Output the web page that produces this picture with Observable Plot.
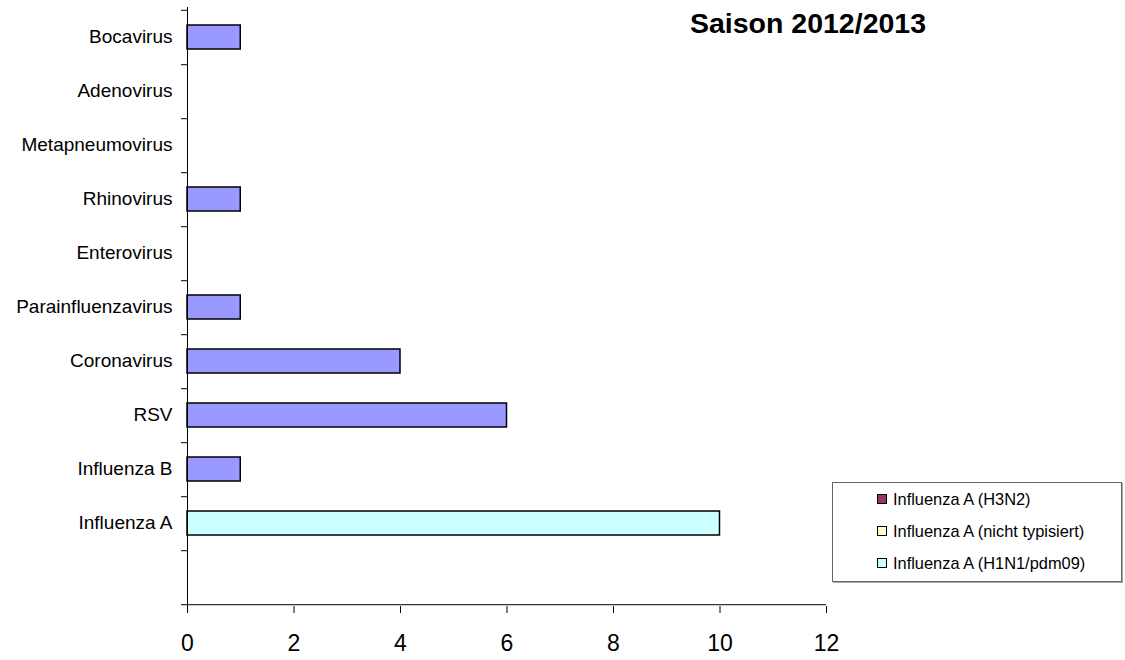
<!DOCTYPE html>
<html>
<head>
<meta charset="utf-8">
<script src="https://cdn.jsdelivr.net/npm/d3@7"></script>
<script src="https://cdn.jsdelivr.net/npm/@observablehq/plot@0.6"></script>
<style>
  html, body { margin: 0; padding: 0; background: #fff; }
  #wrap { position: relative; width: 1125px; height: 660px; font-family: "Liberation Sans", Arial, sans-serif; }
  #title { position: absolute; left: 650px; width: 316px; top: 7px; text-align: center; font-weight: bold; font-size: 28.5px; color: #000; white-space: nowrap; }
  #legend { position: absolute; left: 832px; top: 482px; width: 290px; height: 100px; border: 1px solid #666; box-shadow: 1px 1px 0 #aaa; box-sizing: border-box; padding: 0 0 0 44px; background: #fff; }
  .item { display: flex; align-items: center; height: 32px; font-size: 16.4px; color: #000; white-space: nowrap; }
  .sw { width: 8px; height: 8px; border: 1px solid #000; margin-right: 6px; flex: none; }
</style>
</head>
<body>
<div id="wrap">
  <div id="chart"></div>
  <div id="title"></div>
  <div id="legend"></div>
</div>
<script>
// ---- data ----
const chartTitle = "Saison 2012/2013";
const categories = ["Bocavirus", "Adenovirus", "Metapneumovirus", "Rhinovirus", "Enterovirus",
  "Parainfluenzavirus", "Coronavirus", "RSV", "Influenza B", "Influenza A", " "];
const otherSeries = "Andere Viren";
const otherCounts = [1, 0, 0, 1, 0, 1, 4, 6, 1, 0, 0];
const influenzaCategory = "Influenza A";
const influenzaSubtypes = ["Influenza A (H3N2)", "Influenza A (nicht typisiert)", "Influenza A (H1N1/pdm09)"];
const influenzaCounts = [0, 0, 10];
const subtypeColors = ["#993366", "#FFFFCC", "#CCFFFF"];
const otherColor = "#9999FF";
const xTicks = [0, 2, 4, 6, 8, 10, 12];

// ---- table ----
const rows = [];
categories.forEach((c, i) => { if (otherCounts[i] > 0) rows.push({category: c, series: otherSeries, value: otherCounts[i]}); });
influenzaSubtypes.forEach((s, i) => { if (influenzaCounts[i] > 0) rows.push({category: influenzaCategory, series: s, value: influenzaCounts[i]}); });

const width = 1125, height = 660;
const marginTop = 7, marginBottom = 54, marginLeft = 187, marginRight = 299;
const step = (height - marginTop - marginBottom) / categories.length;

const plot = Plot.plot({
  width, height, marginTop, marginBottom, marginLeft, marginRight,
  style: {fontFamily: '"Liberation Sans", Arial, sans-serif', color: "#000", background: "#fff"},
  x: {domain: [0, 12]},
  y: {domain: categories, padding: 0},
  color: {domain: [otherSeries, ...influenzaSubtypes], range: [otherColor, ...subtypeColors]},
  marks: [
    Plot.barX(rows, Plot.stackX({y: "category", x: "value", fill: "series", order: influenzaSubtypes,
      stroke: "#000", strokeWidth: 1.5, insetTop: 15, insetBottom: 15})),
    // vertical axis line
    Plot.ruleX([0], {stroke: "#000", strokeWidth: 1}),
    // horizontal axis line at the bottom band edge
    Plot.ruleY([categories[categories.length - 1]], {y: d => d, x1: 0, x2: 12, dy: step / 2, stroke: "#000", strokeWidth: 1}),
    // band-boundary ticks on the y axis
    Plot.ruleY([categories[0]], {y: d => d, x1: 0, x2: 0, insetLeft: -6, dy: -step / 2, stroke: "#000"}),
    Plot.ruleY(categories, {y: d => d, x1: 0, x2: 0, insetLeft: -6, dy: step / 2, stroke: "#000"}),
    Plot.axisY({tickSize: 0, tickPadding: 15, fontSize: 19, label: null, dy: -1}),
    Plot.axisX({ticks: xTicks, tickSize: 7, tickPadding: 21, fontSize: 23, label: null, stroke: "#000"})
  ]
});
document.getElementById("chart").appendChild(plot);

document.getElementById("title").textContent = chartTitle;
const legend = document.getElementById("legend");
influenzaSubtypes.forEach((s, i) => {
  const it = document.createElement("div");
  it.className = "item";
  const sw = document.createElement("span");
  sw.className = "sw";
  sw.style.background = subtypeColors[i];
  const t = document.createElement("span");
  t.textContent = s;
  it.appendChild(sw); it.appendChild(t);
  legend.appendChild(it);
});
</script>
</body>
</html>
